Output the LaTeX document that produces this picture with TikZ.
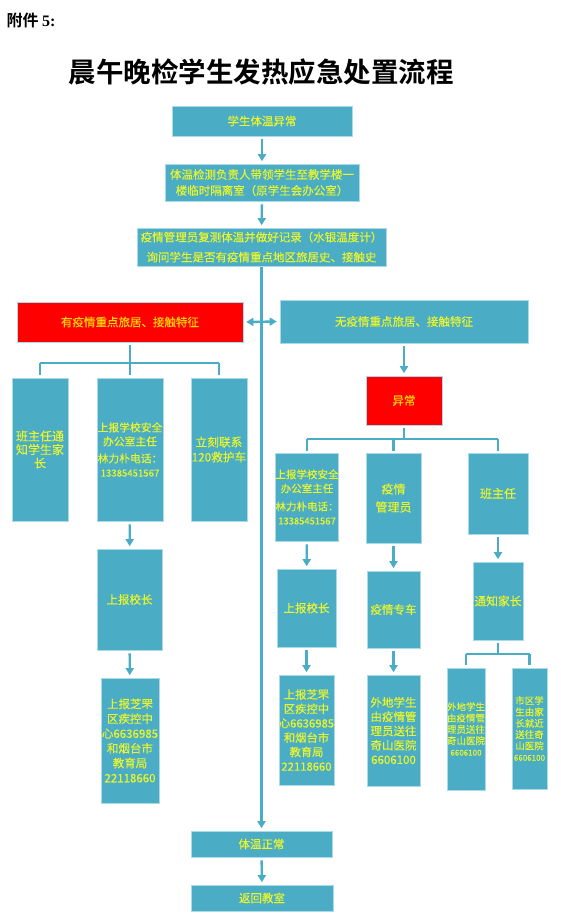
\documentclass[tikz,border=0pt]{standalone}
\usepackage{fontspec}
\usetikzlibrary{arrows.meta}
\setmainfont{Liberation Serif}
\newfontfamily\cjk[FakeBold=0.35]{Noto Sans CJK SC}
\newfontfamily\cjkbold{Noto Sans CJK SC Bold}
\definecolor{teal1}{RGB}{75,172,198}
\definecolor{boxline}{RGB}{170,218,232}
\definecolor{txt}{RGB}{232,245,45}
\definecolor{txtred}{RGB}{255,215,0}
\begin{document}
\begin{tikzpicture}[x=1pt,y=-1pt,
  box/.style={draw=boxline, line width=0.6pt, fill=teal1, text=txt, align=center, inner sep=0pt,
    font=\cjk\fontsize{11.5}{14}\selectfont},
  redbox/.style={box, fill=red, text=txtred},
  smallbox/.style={box, font=\cjk\fontsize{9.5}{11.3}\selectfont},
  link/.style={draw=teal1, line width=2.6pt},
  arr/.style={draw=teal1, line width=2.4pt, -{Triangle[width=8pt,length=7pt]}, shorten <=3pt, shorten >=2.5pt},
  darr/.style={draw=teal1, line width=2.4pt, {Triangle[width=8pt,length=7pt]}-{Triangle[width=8pt,length=7pt]}, shorten <=3pt, shorten >=3pt},
]
\useasboundingbox (0,0) rectangle (560,918);
\fill[white] (0,0) rectangle (560,918);

\node[anchor=west, font=\cjkbold\fontsize{16}{18}\selectfont] (att) at (3,20) {附件 {\rmfamily\bfseries 5:}};
\node[font=\cjkbold\fontsize{27.5}{32}\selectfont] (title) at (261,72) {晨午晚检学生发热应急处置流程};

\node[box, minimum width=180pt, minimum height=30pt] (a) at (262,121) {学生体温异常};
\node[box, minimum width=194pt, minimum height=37pt, font=\cjk\fontsize{11.5}{16}\selectfont] (b) at (262,182.5) {体温检测负责人带领学生至教学楼一\\楼临时隔离室（原学生会办公室）};
\node[box, minimum width=249pt, minimum height=38pt, font=\cjk\fontsize{11.5}{20}\selectfont] (c) at (261.5,247) {疫情管理员复测体温并做好记录（水银温度计）\\询问学生是否有疫情重点地区旅居史、接触史};

\node[redbox, minimum width=226pt, minimum height=40pt] (yes) at (130,322) {有疫情重点旅居、接触特征};
\node[box, minimum width=248pt, minimum height=43pt] (no) at (404,321.5) {无疫情重点旅居、接触特征};
\node[redbox, minimum width=76pt, minimum height=49pt] (ab) at (404,400.5) {异常};

% left column
\node[box, minimum width=56pt, minimum height=143pt, font=\cjk\fontsize{12}{13.5}\selectfont] (L1) at (40,449.5) {班主任通\\知学生家\\长};
\node[box, minimum width=66pt, minimum height=143pt, font=\cjk\fontsize{10.8}{14}\selectfont] (L2) at (130,449.5) {上报学校安全\\办公室主任\\[3pt]林力朴电话：\\{\fontsize{9.6}{13}\selectfont 13385451567}};
\node[box, minimum width=56pt, minimum height=143pt, font=\cjk\fontsize{11.7}{15}\selectfont] (L3) at (219,449.5) {立刻联系\\120救护车};
\node[box, minimum width=65pt, minimum height=101pt] (L4) at (129.5,599.5) {上报校长};
\node[box, minimum width=58pt, minimum height=125pt, font=\cjk\fontsize{11.5}{14.8}\selectfont] (L5) at (130,740.5) {上报芝罘\\区疾控中\\心6636985\\和烟台市\\教育局\\22118660};

% right column
\node[box, minimum width=62pt, minimum height=88pt, font=\cjk\fontsize{10.5}{14}\selectfont] (R1) at (307,497) {上报学校安全\\办公室主任\\[4pt]林力朴电话：\\{\fontsize{9.4}{11}\selectfont 13385451567}};
\node[box, minimum width=55pt, minimum height=90pt, font=\cjk\fontsize{12}{18}\selectfont] (R2) at (393.5,498) {疫情\\管理员};
\node[box, minimum width=60pt, minimum height=81pt, font=\cjk\fontsize{12}{14}\selectfont] (R3) at (498,493.5) {班主任};
\node[box, minimum width=59pt, minimum height=78pt] (R4) at (306.5,608) {上报校长};
\node[box, minimum width=55pt, minimum height=110pt, font=\cjk\fontsize{11.3}{14.4}\selectfont] (R5) at (306.5,730) {上报芝罘\\区疾控中\\心6636985\\和烟台市\\教育局\\22118660};
\node[box, minimum width=53pt, minimum height=77pt] (R6) at (393.5,609.5) {疫情专车};
\node[box, minimum width=53pt, minimum height=111pt, font=\cjk\fontsize{11.5}{14.3}\selectfont] (R7) at (393.5,730.5) {外地学生\\由疫情管\\理员送往\\奇山医院\\6606100};
\node[box, minimum width=50pt, minimum height=78pt, font=\cjk\fontsize{11.8}{14}\selectfont] (R8) at (498,601) {通知家长};
\node[smallbox, minimum width=38pt, minimum height=122pt] (R9) at (466,729) {外地学生\\由疫情管\\理员送往\\奇山医院\\{\fontsize{8}{11.3}\selectfont 6606100}};
\node[smallbox, minimum width=35pt, minimum height=121pt] (R10) at (529.5,728.5) {市区学\\生由家\\长就近\\送往奇\\山医院\\{\fontsize{8}{11.3}\selectfont 6606100}};

% bottom
\node[box, minimum width=141pt, minimum height=26pt] (n) at (261.5,844) {体温正常};
\node[box, minimum width=142pt, minimum height=26pt] (back) at (262,898) {返回教室};

% connectors
\draw[arr] (a) -- (b);
\draw[arr] (b) -- (c);
\draw[arr, shorten <=1pt] (c.south) -- (n.north);
\draw[arr] (n) -- (back);
\draw[darr] (yes.east) -- (no.west);
\draw[arr] (no) -- (ab);

% left branch
\coordinate (bl) at (130,363);
\draw[link] ([yshift=-3pt]yes.south) -- (bl);
\draw[link] (L1.north|-bl) -- (L3.north|-bl);
\draw[link] (L1.north|-bl) -- ([yshift=3pt]L1.north);
\draw[link] (L2.north|-bl) -- ([yshift=3pt]L2.north);
\draw[link] (L3.north|-bl) -- ([yshift=3pt]L3.north);
\draw[arr] (L2) -- (L4);
\draw[arr] (L4) -- (L5);

% right branch
\coordinate (br) at (404,439);
\draw[link] ([yshift=-3pt]ab.south) -- (br);
\draw[link] (R1.north|-br) -- (R3.north|-br);
\draw[link] (R1.north|-br) -- ([yshift=1.5pt]R1.north);
\draw[link] (R2.north|-br) -- ([yshift=1.5pt]R2.north);
\draw[link] (R3.north|-br) -- ([yshift=1.5pt]R3.north);
\draw[arr] (R1) -- (R4);
\draw[arr] (R4) -- (R5);
\draw[arr] (R2) -- (R6);
\draw[arr] (R6) -- (R7);
\draw[arr] (R3) -- (R8);

\coordinate (bs) at (498,654);
\draw[link] ([yshift=-3pt]R8.south) -- (bs);
\draw[link] (R9.north|-bs) -- (R10.north|-bs);
\draw[link] (R9.north|-bs) -- ([yshift=3pt]R9.north);
\draw[link] (R10.north|-bs) -- ([yshift=3pt]R10.north);
\end{tikzpicture}
\end{document}
